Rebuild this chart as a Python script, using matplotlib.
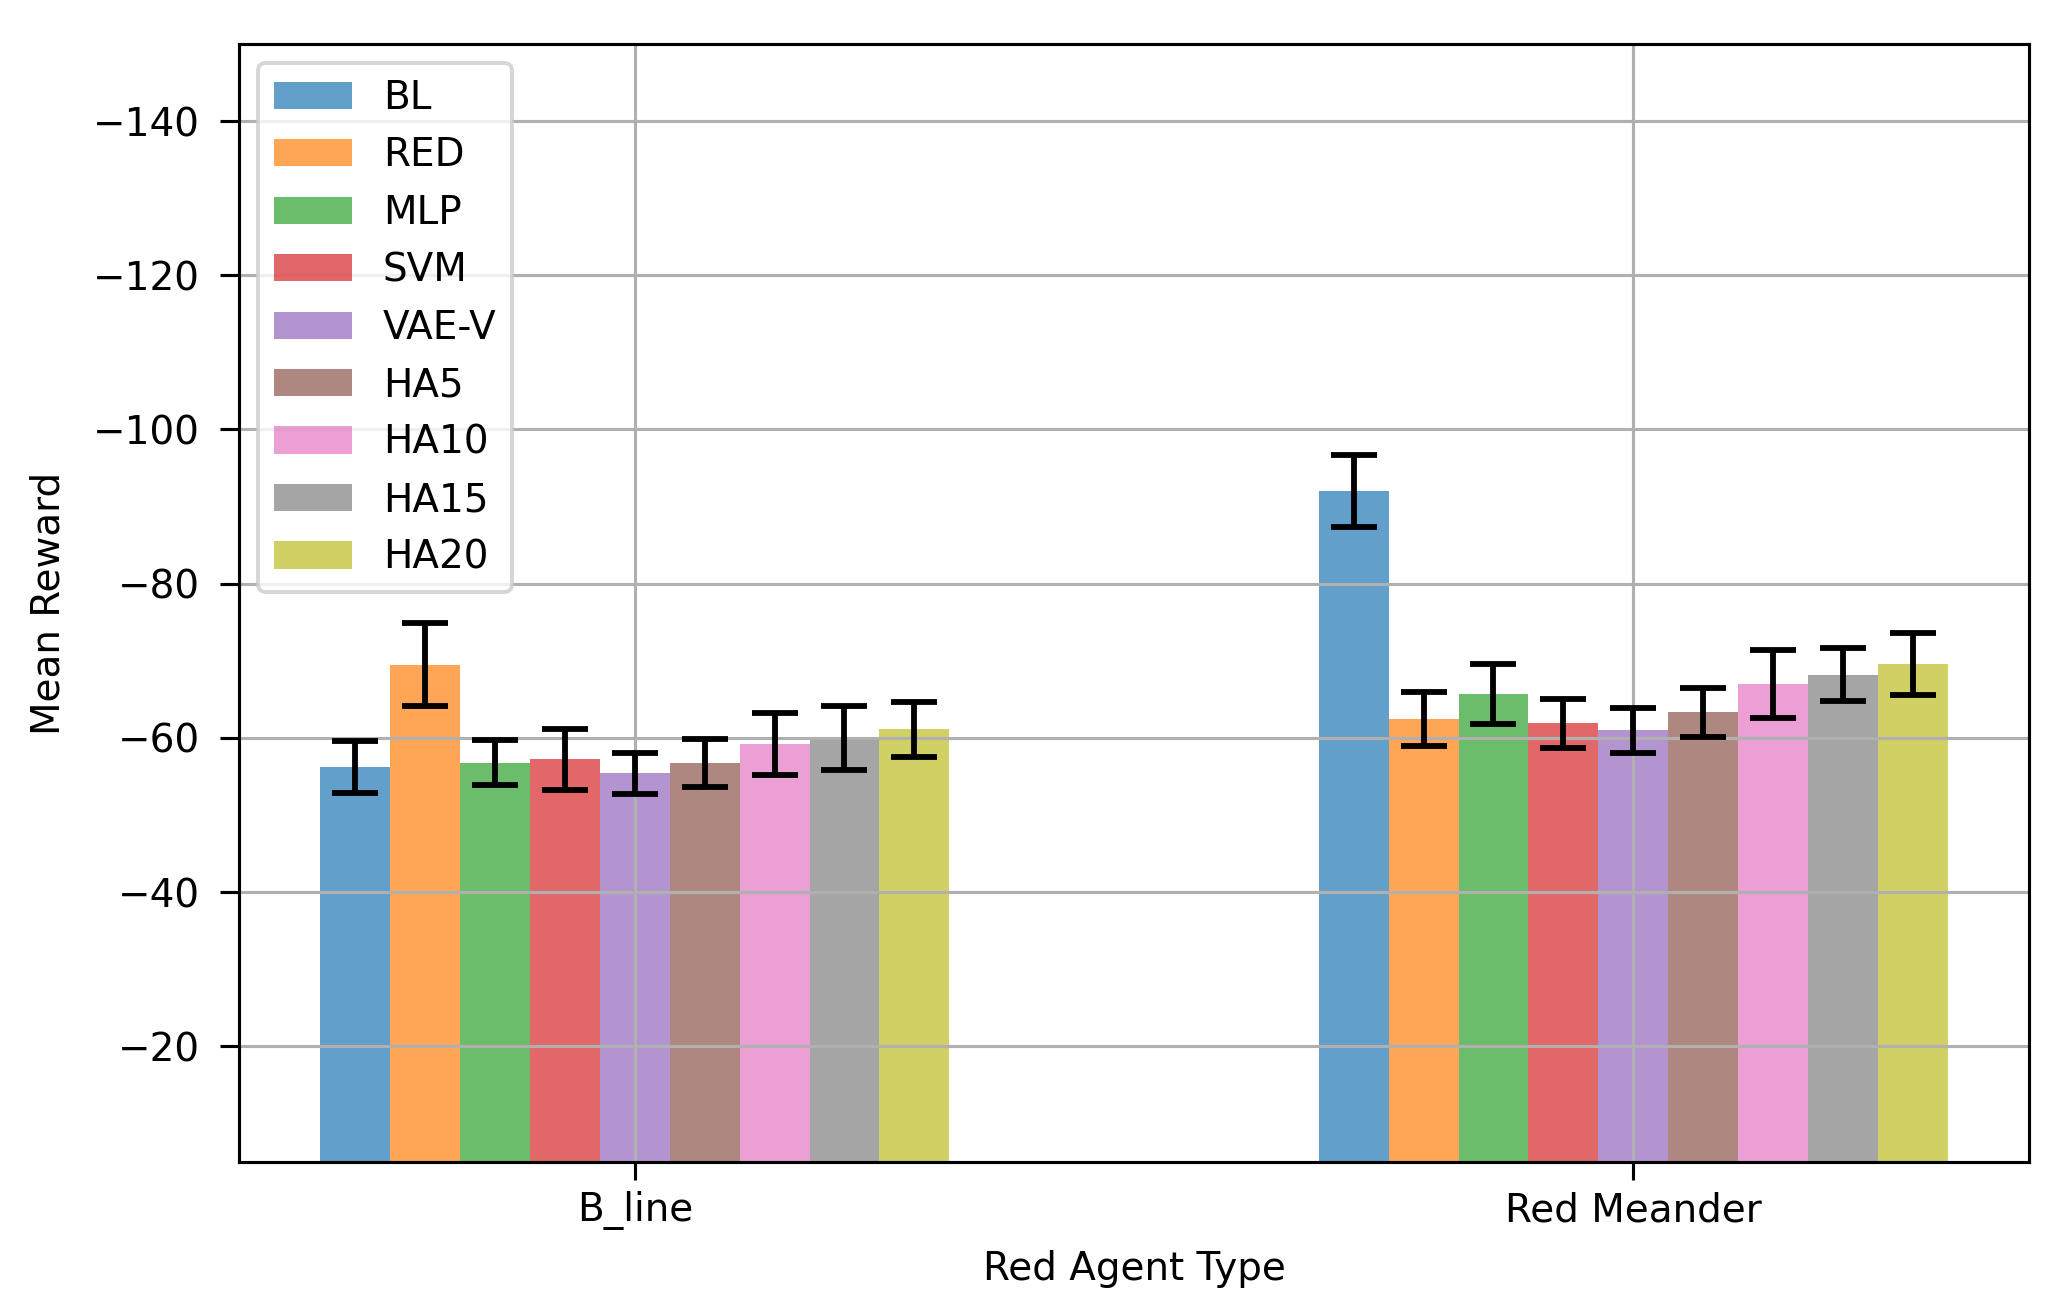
import matplotlib
matplotlib.use("Agg")
import matplotlib.pyplot as plt
import numpy as np

categories = ["B_line", "Red Meander"]
models = ["BL", "RED", "MLP", "SVM", "VAE-V", "HA5", "HA10", "HA15", "HA20"]
means = {
    "BL":    [-56.2, -92.0],
    "RED":   [-69.5, -62.4],
    "MLP":   [-56.8, -65.7],
    "SVM":   [-57.2, -61.9],
    "VAE-V": [-55.4, -61.0],
    "HA5":   [-56.7, -63.3],
    "HA10":  [-59.2, -67.0],
    "HA15":  [-60.0, -68.2],
    "HA20":  [-61.1, -69.6],
}
errs = {
    "BL":    [3.4, 4.7],
    "RED":   [5.4, 3.5],
    "MLP":   [2.9, 3.9],
    "SVM":   [4.0, 3.2],
    "VAE-V": [2.7, 2.9],
    "HA5":   [3.1, 3.2],
    "HA10":  [4.0, 4.4],
    "HA15":  [4.2, 3.4],
    "HA20":  [3.6, 4.0],
}
yticks = [-140, -120, -100, -80, -60, -40, -20]

dpi = 280
fig = plt.figure(figsize=(2060 / dpi, 1305 / dpi), dpi=dpi)
ax = fig.add_axes([0.116, 0.1096, 0.869, 0.8567])

x = np.arange(len(categories))
width = 0.07
colors = plt.rcParams['axes.prop_cycle'].by_key()['color']
n = len(models)
for i, m in enumerate(models):
    offs = (i - (n - 1) / 2) * width
    ax.bar(x + offs, means[m], width, yerr=errs[m], label=m,
           color=colors[i % len(colors)], alpha=0.7, capsize=6,
           error_kw=dict(ecolor='black', elinewidth=1.5, capthick=1.5))

ax.set_xticks(x)
ax.set_xticklabels(categories)
ax.set_yticks(yticks)
ax.set_ylim(-5, -150)
ax.tick_params(axis='y', length=5, pad=5)
ax.tick_params(axis='x', length=4.5, pad=3)
ax.set_xlabel("Red Agent Type", labelpad=5)
ax.set_ylabel("Mean Reward", labelpad=6.5)
ax.grid(True)
ax.legend(loc="upper left")

fig.savefig("out.png", dpi=dpi)
